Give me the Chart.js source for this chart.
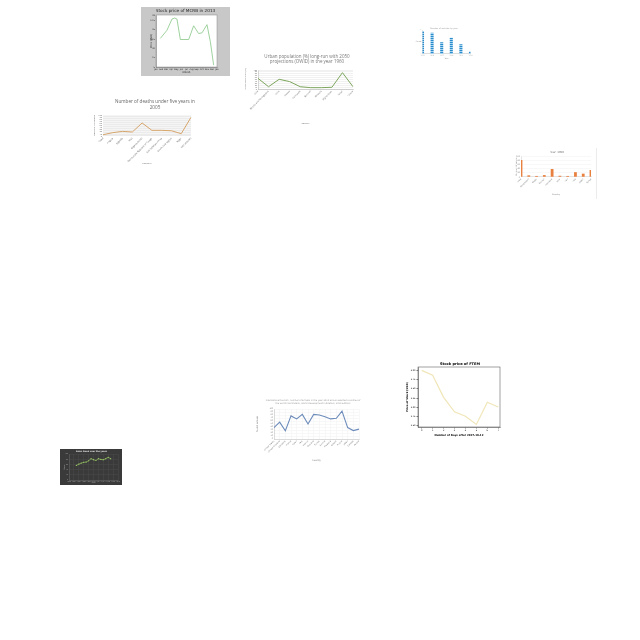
<!DOCTYPE html>
<html><head><meta charset="utf-8">
<script src="https://cdn.jsdelivr.net/npm/chart.js@4.4.1/dist/chart.umd.min.js"></script>
<style>
html,body{margin:0;padding:0;background:#fff;width:640px;height:640px;overflow:hidden;}
canvas{position:absolute;}
</style></head><body>
<canvas id="c1"></canvas><canvas id="c2"></canvas><canvas id="c3"></canvas><canvas id="c4"></canvas>
<canvas id="c5"></canvas><canvas id="c6"></canvas><canvas id="c7"></canvas><canvas id="c8"></canvas>
<div style="position:absolute;left:596px;top:148px;width:1px;height:51px;background:#ececec"></div>
<script>
// ---------- data ----------
const mcrbX = [7.1, 18, 26.2, 30.6, 34.4, 39.9, 53.6, 61.7, 69.9, 75.4, 83.6, 89.1, 94.5];
const mcrbPrice = [12.7, 14.9, 17.9, 18.2, 17.9, 12.4, 12.4, 16.1, 14.0, 14.2, 16.4, 11.8, 5.5];
const mcrbTickLabels = ['Jan','Feb','Mar','Apr','May','Jun','Jul','Aug','Sep','Oct','Nov','Dec','Jan'];

const deathCountries = ['Chad','Angola','Uganda','Mali','Nigeria (total)','Democratic Republic of Congo','Sub-Saharan Africa','South Asia region','Niger','World (total)'];
const deathValues = [6, 16, 22, 19, 62, 27, 27, 25, 11, 89];

const urbanCountries = ['Chile','Bosnia and Herzegovina','Cuba','Greece','Cambodia','Burundi','Ethiopia','Afghanistan','Israel','Ghana'];
const urbanValues = [56, 12, 51, 39, 12, 7, 7, 9, 86, 12];

const vehicleYears = ['2015','2016','2017','2018','2019','2020'];
const vehicleCounts = [96, 89, 49, 68, 41, 10];

const y1950Countries = ['India','Bangladesh','Nepal','Bhutan','Indonesia','Laos','Iran','Iraq','Japan','Kenya'];
const y1950Values = [81, 8, 5, 9, 38, 6, 5, 23, 16, 33];

const salesYears = [2003,2004,2005,2006,2007,2008,2009,2010,2011,2012,2013,2014,2015,2016,2017];
const salesValues = [56, 61, 65, 68, 69, 74, 82, 78, 75, 82, 79, 78, 82, 87, 82];

const tourCountries = ['United States','United Kingdom','Germany','France','Spain','Italy','Mexico','Thailand','Turkey','Austria','Malaysia','Greece','Russia','Japan','Canada','Poland'];
const tourValues = [38, 56, 27, 77, 67, 82, 50, 82, 80, 74, 67, 69, 93, 38, 28, 33];

const ftemDays = [0, 1, 2, 3, 4, 5, 6, 7];
const ftemPrice = [4.0, 3.87, 3.27, 2.88, 2.76, 2.54, 3.14, 3.01];
const ftemYTicks = [2.5, 2.75, 3.0, 3.25, 3.5, 3.75, 4.0];

// ---------- helpers ----------
const SANS = "'DejaVu Sans', sans-serif";
const OPEN = "'Open Sans', sans-serif";
Chart.defaults.font.family = SANS;

const deco = {
  id: 'deco',
  beforeDraw(chart, args, o) {
    const {ctx, chartArea: a, width, height} = chart;
    ctx.save();
    if (o.canvasBg) { ctx.fillStyle = o.canvasBg; ctx.fillRect(0, 0, width, height); }
    if (o.plotBg) { ctx.fillStyle = o.plotBg; ctx.fillRect(a.left, a.top, a.right - a.left, a.bottom - a.top); }
    ctx.restore();
  },
  afterDraw(chart, args, o) {
    const {ctx, chartArea: a} = chart;
    ctx.save();
    if (o.frame) { ctx.strokeStyle = o.frame; ctx.lineWidth = o.frameWidth || 0.5; ctx.strokeRect(a.left, a.top, a.right - a.left, a.bottom - a.top); }
    (o.texts || []).forEach(t => {
      ctx.save();
      ctx.font = (t.weight || 'normal') + ' ' + t.size + 'px ' + (t.family || SANS);
      ctx.fillStyle = t.color || '#333';
      ctx.textAlign = 'center'; ctx.textBaseline = 'middle';
      ctx.translate(t.x, t.y);
      if (t.rot) ctx.rotate(t.rot);
      ctx.fillText(t.text, 0, 0);
      ctx.restore();
    });
    ctx.restore();
  }
};
Chart.register(deco);

function ax(o) {
  return {
    type: o.type,
    min: o.min, max: o.max,
    offset: o.offset,
    grid: {display: !!(o.grid || o.tickLen), drawOnChartArea: !!o.grid, color: o.gridColor || '#e6e6e6', lineWidth: 0.5,
           drawTicks: !!o.tickLen, tickLength: o.tickLen || 0, tickColor: o.tickColor || '#000', tickWidth: 0.5},
    border: {display: o.border !== false, color: o.borderColor || '#999', width: 0.5},
    ticks: Object.assign({font: {size: o.fs || 2.5, family: o.family || SANS}, color: o.tc || '#555', padding: o.tp === undefined ? 1 : o.tp,
            autoSkip: false, maxRotation: o.rot || 0, minRotation: o.rot || 0}, o.ticks || {}),
    title: {display: !!o.title, text: o.title, font: {size: o.ts || 2.5, weight: o.tw || 'normal', family: o.family || SANS, lineHeight: 1.2},
            color: o.ttc || '#444', padding: 0},
    afterBuildTicks: o.abt
  };
}

function make(id, g, type, data, scales, decoOpts) {
  const cv = document.getElementById(id);
  cv.width = g.W; cv.height = g.H;
  cv.style.left = g.left + 'px'; cv.style.top = g.top + 'px';
  cv.style.width = g.W + 'px'; cv.style.height = g.H + 'px';
  scales.x.afterFit = s => { s.height = g.H - g.pb - g.B; s.paddingLeft = 0; s.paddingRight = 0; };
  scales.y.afterFit = s => { s.width = g.L - g.pl; s.paddingTop = 0; s.paddingBottom = 0; };
  return new Chart(cv, {type, data, options: {
    responsive: false, animation: false, devicePixelRatio: 1,
    layout: {padding: {left: g.pl, top: g.T, right: g.W - g.R, bottom: g.pb}},
    plugins: {legend: {display: false}, tooltip: {enabled: false}, title: {display: false}, deco: decoOpts},
    scales
  }});
}

// ---------- chart 1: MCRB ----------
make('c1', {left: 141, top: 7, W: 89, H: 69, L: 15, T: 8, R: 76, B: 60, pl: 8.5, pb: 2.5}, 'line',
  {datasets: [{data: mcrbX.map((x, i) => ({x, y: mcrbPrice[i]})), borderColor: '#86c786', borderWidth: 0.8, pointRadius: 0, tension: 0}]},
  {
    x: ax({type: 'linear', min: 0, max: 100, fs: 2.2, tc: '#222', title: 'Month', ttc: '#222', borderColor: '#666',
           abt: s => { s.ticks = mcrbTickLabels.map((_, i) => ({value: i * 100 / (mcrbTickLabels.length - 1)})); },
           ticks: {callback: (v, i) => mcrbTickLabels[i]}}),
    y: ax({type: 'linear', min: 5, max: 19, fs: 2.2, tc: '#222', title: 'Price (USD)', ttc: '#222', borderColor: '#666',
           ticks: {stepSize: 2.5}})
  },
  {canvasBg: '#c8c8c8', plotBg: '#ffffff', frame: '#888', frameWidth: 0.5,
   texts: [{text: 'Stock price of MCRB in 2013', x: 44.5, y: 3.5, size: 4.2, color: '#222'}]});

// ---------- chart 2: deaths ----------
make('c2', {left: 80, top: 95, W: 150, H: 72, L: 23, T: 20, R: 111, B: 41, pl: 12.5, pb: 2.5}, 'line',
  {labels: deathCountries, datasets: [{data: deathValues, borderColor: '#d6a56b', borderWidth: 1, pointRadius: 0, tension: 0}]},
  {
    x: ax({type: 'category', fs: 2.4, rot: 45, family: OPEN, title: 'Country', tc: '#666', ttc: '#666', border: false}),
    y: ax({type: 'linear', min: 0, max: 100, fs: 2.2, family: OPEN, title: 'Number of deaths', tc: '#666', ttc: '#666', border: false,
           grid: true, gridColor: '#ffffff', ticks: {stepSize: 10}})
  },
  {plotBg: '#ebebeb',
   texts: [{text: 'Number of deaths under five years in', x: 75, y: 7, size: 4.6, color: '#666', family: OPEN},
           {text: '2005', x: 75, y: 13, size: 4.6, color: '#666', family: OPEN}]});

// ---------- chart 3: urban population ----------
make('c3', {left: 240, top: 50, W: 134, H: 78, L: 18, T: 20, R: 113, B: 39, pl: 3.7, pb: 3.7}, 'line',
  {labels: urbanCountries, datasets: [{data: urbanValues, borderColor: '#7ea65e', borderWidth: 1, pointRadius: 0, tension: 0}]},
  {
    x: ax({type: 'category', fs: 2.3, rot: 45, family: OPEN, title: 'Country', ts: 2.2, tc: '#666', ttc: '#666', borderColor: '#aaa'}),
    y: ax({type: 'linear', min: 0, max: 100, fs: 2, family: OPEN, title: 'Urban population (%)', ts: 2.2, tc: '#666', ttc: '#666',
           borderColor: '#aaa', grid: true, gridColor: '#e3e3e3', ticks: {stepSize: 10}})
  },
  {texts: [{text: 'Urban population (%) long-run with 2050', x: 67, y: 7, size: 4.5, color: '#777', family: OPEN},
           {text: 'projections (OWID) in the year 1960', x: 67, y: 12.2, size: 4.5, color: '#777', family: OPEN}]});

// ---------- chart 4: blue bars ----------
const pc = document.createElement('canvas'); pc.width = 2; pc.height = 2;
const pctx = pc.getContext('2d');
pctx.fillStyle = '#2b8ccc'; pctx.fillRect(0, 0, 2, 2);
pctx.fillStyle = '#a6d4f0'; pctx.fillRect(0, 1, 2, 1);
const bluePattern = pctx.createPattern(pc, 'repeat');
make('c4', {left: 412, top: 24, W: 64, H: 38, L: 10.5, T: 6, R: 58.5, B: 30, pl: 0, pb: 2.8}, 'bar',
  {labels: vehicleYears, datasets: [{data: vehicleCounts, backgroundColor: bluePattern, barPercentage: 0.32, categoryPercentage: 1}]},
  {
    x: ax({type: 'category', fs: 1.6, title: 'Year', ts: 2, tc: '#999', ttc: '#999', borderColor: '#bbb'}),
    y: ax({type: 'linear', min: 0, max: 100, fs: 1.2, tc: '#bbb', borderColor: '#bbb', ticks: {stepSize: 25}})
  },
  {texts: [{text: 'Number of vehicles by year', x: 32, y: 4, size: 2, color: '#999'},
           {text: 'Count', x: 6.5, y: 18, size: 1.8, color: '#888'}]});

// ---------- chart 5: orange bars ----------
make('c5', {left: 505, top: 147, W: 104, H: 52, L: 16, T: 9, R: 86, B: 30, pl: 9.8, pb: 3.8}, 'bar',
  {labels: y1950Countries, datasets: [{data: y1950Values, backgroundColor: '#e8803f', barPercentage: 0.36, categoryPercentage: 1}]},
  {
    x: ax({type: 'category', fs: 2, rot: 45, title: 'Country', ts: 2, tc: '#777', ttc: '#777', borderColor: '#ccc'}),
    y: ax({type: 'linear', min: 0, max: 100, fs: 2, title: 'Number of people', ts: 2, tc: '#777', ttc: '#777', borderColor: '#ccc',
           grid: true, gridColor: '#f0f0f0', ticks: {stepSize: 20}})
  },
  {texts: [{text: 'Year: 1950', x: 52, y: 5, size: 2.6, color: '#666'}]});

// ---------- chart 6: dark line ----------
make('c6', {left: 60, top: 449, W: 62, H: 36, L: 9, T: 5, R: 61, B: 31, pl: 3.9, pb: 0.9}, 'line',
  {datasets: [{data: salesYears.map((x, i) => ({x, y: salesValues[i]})), borderColor: '#9ccc65', backgroundColor: '#9ccc65',
               borderWidth: 0.6, pointRadius: 0.6, pointBorderWidth: 0, tension: 0}]},
  {
    x: ax({type: 'linear', min: 2000, max: 2020, fs: 1.4, title: 'Year', ts: 1.8, tc: '#aaa', ttc: '#bbb', borderColor: '#666',
           grid: true, gridColor: '#4a4a4a', ticks: {stepSize: 2}}),
    y: ax({type: 'linear', min: 0, max: 100, fs: 1.4, title: 'Sales', ts: 1.8, tc: '#aaa', ttc: '#bbb', borderColor: '#666',
           grid: true, gridColor: '#4a4a4a', ticks: {stepSize: 20}})
  },
  {canvasBg: '#3a3a3a',
   texts: [{text: 'Sales trend over the years', x: 31.5, y: 2.2, size: 2.1, color: '#e0e0e0', weight: 'bold'}]});

// ---------- chart 7: blue line ----------
make('c7', {left: 250, top: 396, W: 126, H: 68, L: 24, T: 13, R: 109, B: 43, pl: 5.7, pb: 2.7}, 'line',
  {labels: tourCountries, datasets: [{data: tourValues, borderColor: '#6d8cbb', borderWidth: 1.1, pointRadius: 0, tension: 0}]},
  {
    x: ax({type: 'category', fs: 2, rot: 45, title: 'Country', ts: 2.2, tc: '#777', ttc: '#777', borderColor: '#bbb',
           grid: true, gridColor: '#f1f1f1'}),
    y: ax({type: 'linear', min: 0, max: 100, fs: 1.9, title: 'Tourist arrivals', ts: 2.2, tc: '#777', ttc: '#777', borderColor: '#bbb',
           grid: true, gridColor: '#f1f1f1', ticks: {stepSize: 10}})
  },
  {texts: [{text: 'International tourism, number of arrivals in the year 2010 across selected countries of', x: 63, y: 4, size: 2.2, color: '#999'},
           {text: 'the world (World Bank, World Development Indicators, 2010 edition)', x: 63, y: 7, size: 2.2, color: '#999'}]});

// ---------- chart 8: FTEM ----------
make('c8', {left: 398, top: 358, W: 124, H: 82, L: 20, T: 9, R: 102, B: 69, pl: 7.5, pb: 3.5}, 'line',
  {datasets: [{data: ftemDays.map((x, i) => ({x, y: ftemPrice[i]})), borderColor: '#f0e6b8', borderWidth: 1.2, pointRadius: 0, tension: 0}]},
  {
    x: ax({type: 'linear', min: -0.34, max: 7.16, fs: 2.2, tc: '#000', title: 'Number of Days after 2017-10-12', ts: 2.6, tw: 'bold', ttc: '#000',
           borderColor: '#444', tickLen: 1.5, tp: 1,
           abt: s => { s.ticks = ftemDays.map(v => ({value: v})); }}),
    y: ax({type: 'linear', min: 2.47, max: 4.09, fs: 2.2, tc: '#000', title: 'Price of Stock (USD)', ts: 2.6, tw: 'bold', ttc: '#000',
           borderColor: '#444', tickLen: 1.5, tp: 1,
           abt: s => { s.ticks = ftemYTicks.map(v => ({value: v})); },
           ticks: {callback: v => v.toFixed(2)}})
  },
  {frame: '#444', frameWidth: 0.5,
   texts: [{text: 'Stock price of FTEM', x: 62, y: 6, size: 3.6, color: '#000', weight: 'bold'}]});
</script>
</body></html>
